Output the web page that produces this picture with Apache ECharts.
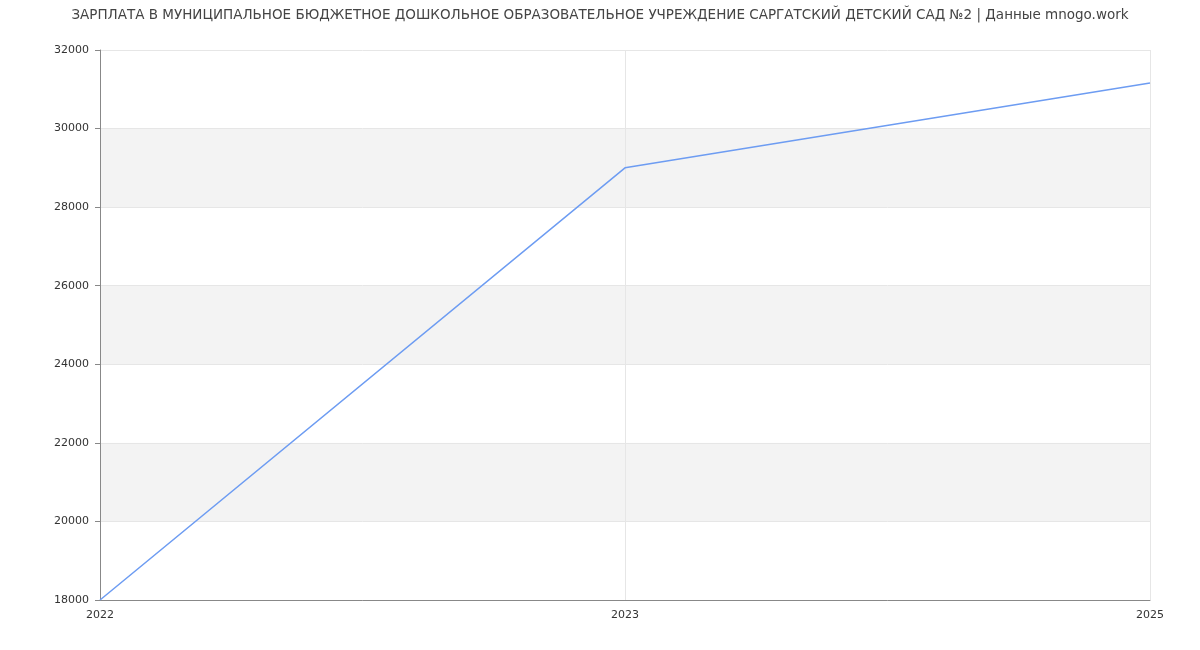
<!DOCTYPE html>
<html><head><meta charset="utf-8">
<script src="https://cdn.jsdelivr.net/npm/echarts@6/dist/echarts.min.js"></script>
<style>html,body{margin:0;padding:0;background:#fff}#c{width:1200px;height:650px}</style>
</head><body><div id="c"></div>
<script>
const titleText = 'ЗАРПЛАТА В МУНИЦИПАЛЬНОЕ БЮДЖЕТНОЕ ДОШКОЛЬНОЕ ОБРАЗОВАТЕЛЬНОЕ УЧРЕЖДЕНИЕ САРГАТСКИЙ ДЕТСКИЙ САД №2 | Данные mnogo.work';
const years = ['2022', '2023', '2025'];
const salary = [18000, 29000, 31160];

const chart = echarts.init(document.getElementById('c'), null, {renderer: 'canvas'});
chart.setOption({
  animation: false,
  backgroundColor: '#fff',
  title: {
    text: titleText, left: 'center', top: 3,
    textStyle: {fontFamily: 'DejaVu Sans', fontSize: 13.5, fontWeight: 'normal', color: '#444'}
  },
  grid: {left: 100, right: 50, top: 50, bottom: 50},
  xAxis: {
    type: 'category', data: years, boundaryGap: false,
    axisLine: {lineStyle: {color: '#888'}},
    axisTick: {show: false},
    axisLabel: {fontFamily: 'DejaVu Sans', fontSize: 11, color: '#333', margin: 10},
    splitLine: {show: true, lineStyle: {color: '#e6e6e6'}}
  },
  yAxis: {
    type: 'value', min: 18000, max: 32000, interval: 2000,
    axisLine: {show: true, lineStyle: {color: '#888'}},
    axisTick: {show: true, length: 5, lineStyle: {color: '#888'}},
    axisLabel: {fontFamily: 'DejaVu Sans', fontSize: 11, color: '#333', margin: 11,
      formatter: v => String(v)},
    splitLine: {show: true, lineStyle: {color: '#e6e6e6'}},
    splitArea: {show: true, areaStyle: {color: ['#ffffff', '#f3f3f3']}}
  },
  series: [{
    type: 'line', data: salary, showSymbol: false, symbol: 'none',
    lineStyle: {color: '#6d9cf2', width: 1.5}
  }]
});
</script></body></html>
